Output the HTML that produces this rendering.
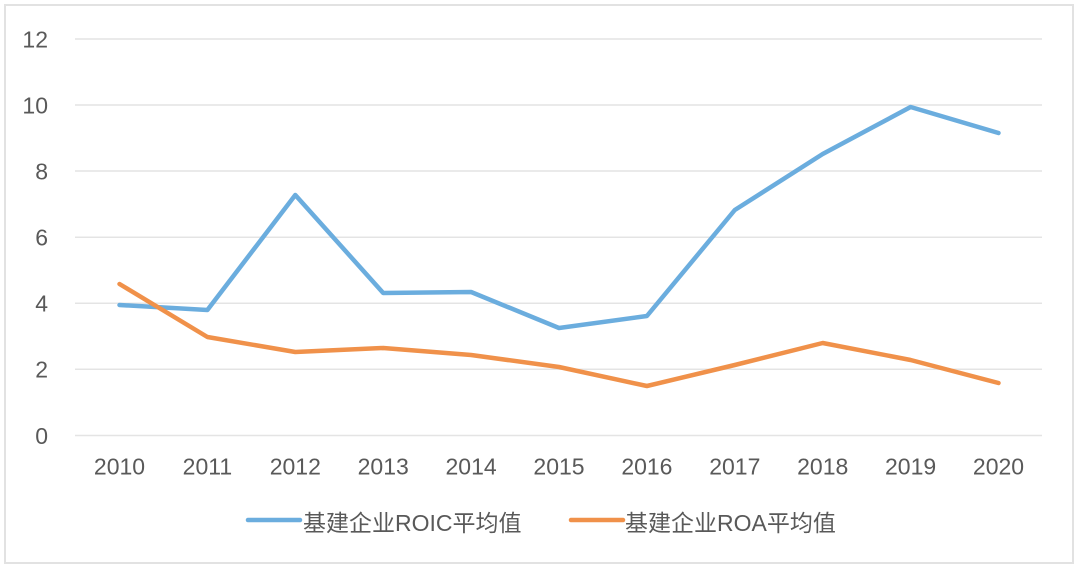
<!DOCTYPE html>
<html>
<head>
<meta charset="utf-8">
<style>
html,body{margin:0;padding:0;background:#fff;}
svg{display:block;}
text{font-family:"Liberation Sans","Noto Sans CJK SC",sans-serif;fill:#595959;font-size:23px;}
</style>
</head>
<body>
<svg width="1080" height="572" viewBox="0 0 1080 572" xmlns="http://www.w3.org/2000/svg">
<rect x="0" y="0" width="1080" height="572" fill="#fff"/>
<rect x="5" y="5" width="1068" height="558" fill="#fff" stroke="#e2e2e2" stroke-width="2"/>
<g stroke="#e4e4e4" stroke-width="1.5">
<line x1="75" y1="39" x2="1042" y2="39"/>
<line x1="75" y1="105" x2="1042" y2="105"/>
<line x1="75" y1="171" x2="1042" y2="171"/>
<line x1="75" y1="237.3" x2="1042" y2="237.3"/>
<line x1="75" y1="303.3" x2="1042" y2="303.3"/>
<line x1="75" y1="369.3" x2="1042" y2="369.3"/>
<line x1="75" y1="435.5" x2="1042" y2="435.5"/>
</g>
<g text-anchor="end">
<text x="48" y="47.5">12</text>
<text x="48" y="113.5">10</text>
<text x="48" y="179.5">8</text>
<text x="48" y="245.5">6</text>
<text x="48" y="311.5">4</text>
<text x="48" y="377.5">2</text>
<text x="48" y="444">0</text>
</g>
<g text-anchor="middle">
<text x="119.5" y="474.5">2010</text>
<text x="207.4" y="474.5">2011</text>
<text x="295.3" y="474.5">2012</text>
<text x="383.2" y="474.5">2013</text>
<text x="471.1" y="474.5">2014</text>
<text x="559" y="474.5">2015</text>
<text x="646.9" y="474.5">2016</text>
<text x="734.8" y="474.5">2017</text>
<text x="822.7" y="474.5">2018</text>
<text x="910.6" y="474.5">2019</text>
<text x="998.5" y="474.5">2020</text>
</g>
<polyline fill="none" stroke="#6badde" stroke-width="4.5" stroke-linecap="round" stroke-linejoin="round"
points="119.5,305 207.4,310 295.3,195 383.2,293 471.1,292 559,328 646.9,316 734.8,210 822.7,154 910.6,107 998.5,133"/>
<polyline fill="none" stroke="#f0914a" stroke-width="4.5" stroke-linecap="round" stroke-linejoin="round"
points="119.5,284 207.4,337 295.3,352 383.2,348 471.1,355 559,367 646.9,386 734.8,365 822.7,343 910.6,360 998.5,383"/>
<line x1="248" y1="520" x2="300" y2="520" stroke="#6badde" stroke-width="4.5" stroke-linecap="round"/>
<text x="303" y="531">基建企业ROIC平均值</text>
<line x1="571" y1="520" x2="623" y2="520" stroke="#f0914a" stroke-width="4.5" stroke-linecap="round"/>
<text x="625" y="531">基建企业ROA平均值</text>
</svg>
</body>
</html>
